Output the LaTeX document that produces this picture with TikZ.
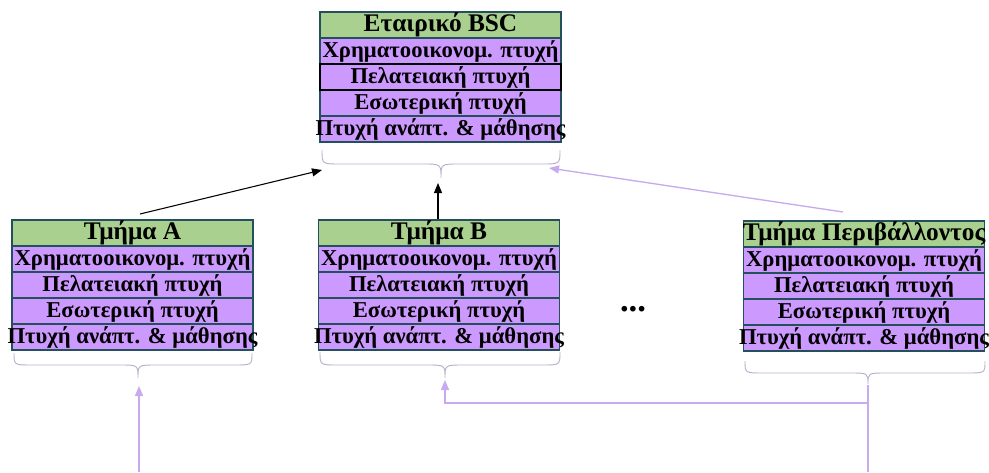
\documentclass[tikz,border=0pt]{standalone}
\usepackage{fontspec}
\setmainfont{Liberation Serif}
\usetikzlibrary{arrows.meta}
\definecolor{hdrgreen}{RGB}{169,208,142}
\definecolor{rowpurple}{RGB}{204,153,255}
\definecolor{boxedge}{RGB}{35,80,92}
\definecolor{lavline}{RGB}{200,170,240}
\definecolor{bracecol}{RGB}{185,175,205}
\tikzset{
  cell/.style={draw=boxedge, line width=1.4pt, minimum width=180.75pt, minimum height=19.5pt,
    inner sep=0pt, font=\fontsize{17}{18}\selectfont\bfseries, text=black,
    execute at begin node={\hbox to 0pt\bgroup\hss},
    execute at end node={\hss\egroup}},
  hdr/.style={cell, fill=hdrgreen, font=\fontsize{19}{20}\selectfont\bfseries},
  rowc/.style={cell, fill=rowpurple},
  bracestyle/.style={draw=bracecol, line width=0.7pt},
  blackarrow/.style={draw=black, line width=0.8pt, -{Triangle[length=7.5pt,width=6pt]}},
  lavarrow/.style={draw=lavline, line width=1pt, -{Triangle[length=7.5pt,width=6pt]}},
  lavline/.style={draw=lavline, line width=1pt}
}
\begin{document}
\begin{tikzpicture}[x=0.75pt,y=-0.75pt]
\useasboundingbox (0,0) rectangle (989,472);
% top box
\node[hdr]  (c0) at (440.5,25) {Εταιρικό BSC};
\node[rowc] (c1) at (440.5,51) {Χρηματοοικονομ. πτυχή};
\node[rowc] (c3) at (440.5,103) {Εσωτερική πτυχή};
\node[rowc] (c4) at (440.5,129) {Πτυχή ανάπτ. \& μάθησης};
\node[rowc, draw=black] (c2) at (440.5,77) {Πελατειακή πτυχή};
% box A
\node[hdr]  (a0) at (132.5,233) {Τμήμα Α};
\node[rowc] (a1) at (132.5,259) {Χρηματοοικονομ. πτυχή};
\node[rowc] (a2) at (132.5,285) {Πελατειακή πτυχή};
\node[rowc] (a3) at (132.5,311) {Εσωτερική πτυχή};
\node[rowc] (a4) at (132.5,337) {Πτυχή ανάπτ. \& μάθησης};
% box B
\node[hdr]  (b0) at (439,233) {Τμήμα Β};
\node[rowc] (b1) at (439,259) {Χρηματοοικονομ. πτυχή};
\node[rowc] (b2) at (439,285) {Πελατειακή πτυχή};
\node[rowc] (b3) at (439,311) {Εσωτερική πτυχή};
\node[rowc] (b4) at (439,337) {Πτυχή ανάπτ. \& μάθησης};
% box environment
\node[hdr]  (e0) at (864,234) {Τμήμα Περιβάλλοντος};
\node[rowc] (e1) at (864,260) {Χρηματοοικονομ. πτυχή};
\node[rowc] (e2) at (864,286) {Πελατειακή πτυχή};
\node[rowc] (e3) at (864,312) {Εσωτερική πτυχή};
\node[rowc] (e4) at (864,338) {Πτυχή ανάπτ. \& μάθησης};
% dots
\node[font=\fontsize{26}{28}\selectfont\bfseries] (dots) at (633,309) {...};
% braces
\draw[bracestyle] (322,150) .. controls (322,164) .. (340,164) -- (423,164)
  .. controls (441,164) .. (441,178) .. controls (441,164) .. (459,164) -- (542,164)
  .. controls (560,164) .. (560,150);
\coordinate (ctip) at (438,183);
\coordinate (cleft) at (322,170);
\coordinate (cright) at (549,168);
\draw[bracestyle] (14,353) .. controls (14,365) .. (32,365) -- (120,365)
  .. controls (138,365) .. (138,378) .. controls (138,365) .. (156,365) -- (234,365)
  .. controls (252,365) .. (252,353);
\draw[bracestyle] (320,352) .. controls (320,365) .. (338,365) -- (427,365)
  .. controls (445,365) .. (445,378) .. controls (445,365) .. (463,365) -- (542,365)
  .. controls (560,365) .. (560,352);
\draw[bracestyle] (745,361) .. controls (745,373) .. (763,373) -- (850,373)
  .. controls (868,373) .. (868,384) .. controls (868,373) .. (886,373) -- (967,373)
  .. controls (985,373) .. (985,361);
\coordinate (atip) at (139,386);
\coordinate (abot) at (139,472);
\coordinate (btip) at (445,380);
\coordinate (bcorner) at (445,403);
\coordinate (etop) at (868,385);
\coordinate (ebot) at (868,472);
\coordinate (ejoin) at (868,403);
\coordinate (astart) at (140,214);
\coordinate (estart) at (843,212);
% arrows to top
\draw[blackarrow] (astart) -- (cleft);
\draw[blackarrow] (b0.north -| ctip) -- (ctip);
\draw[lavarrow] (estart) -- (cright);
% arrows from below
\draw[lavarrow] (abot) -- (atip);
\draw[lavline] (ebot) -- (etop);
\draw[lavarrow] (ejoin) -- (bcorner) -- (btip);
\end{tikzpicture}
\end{document}
